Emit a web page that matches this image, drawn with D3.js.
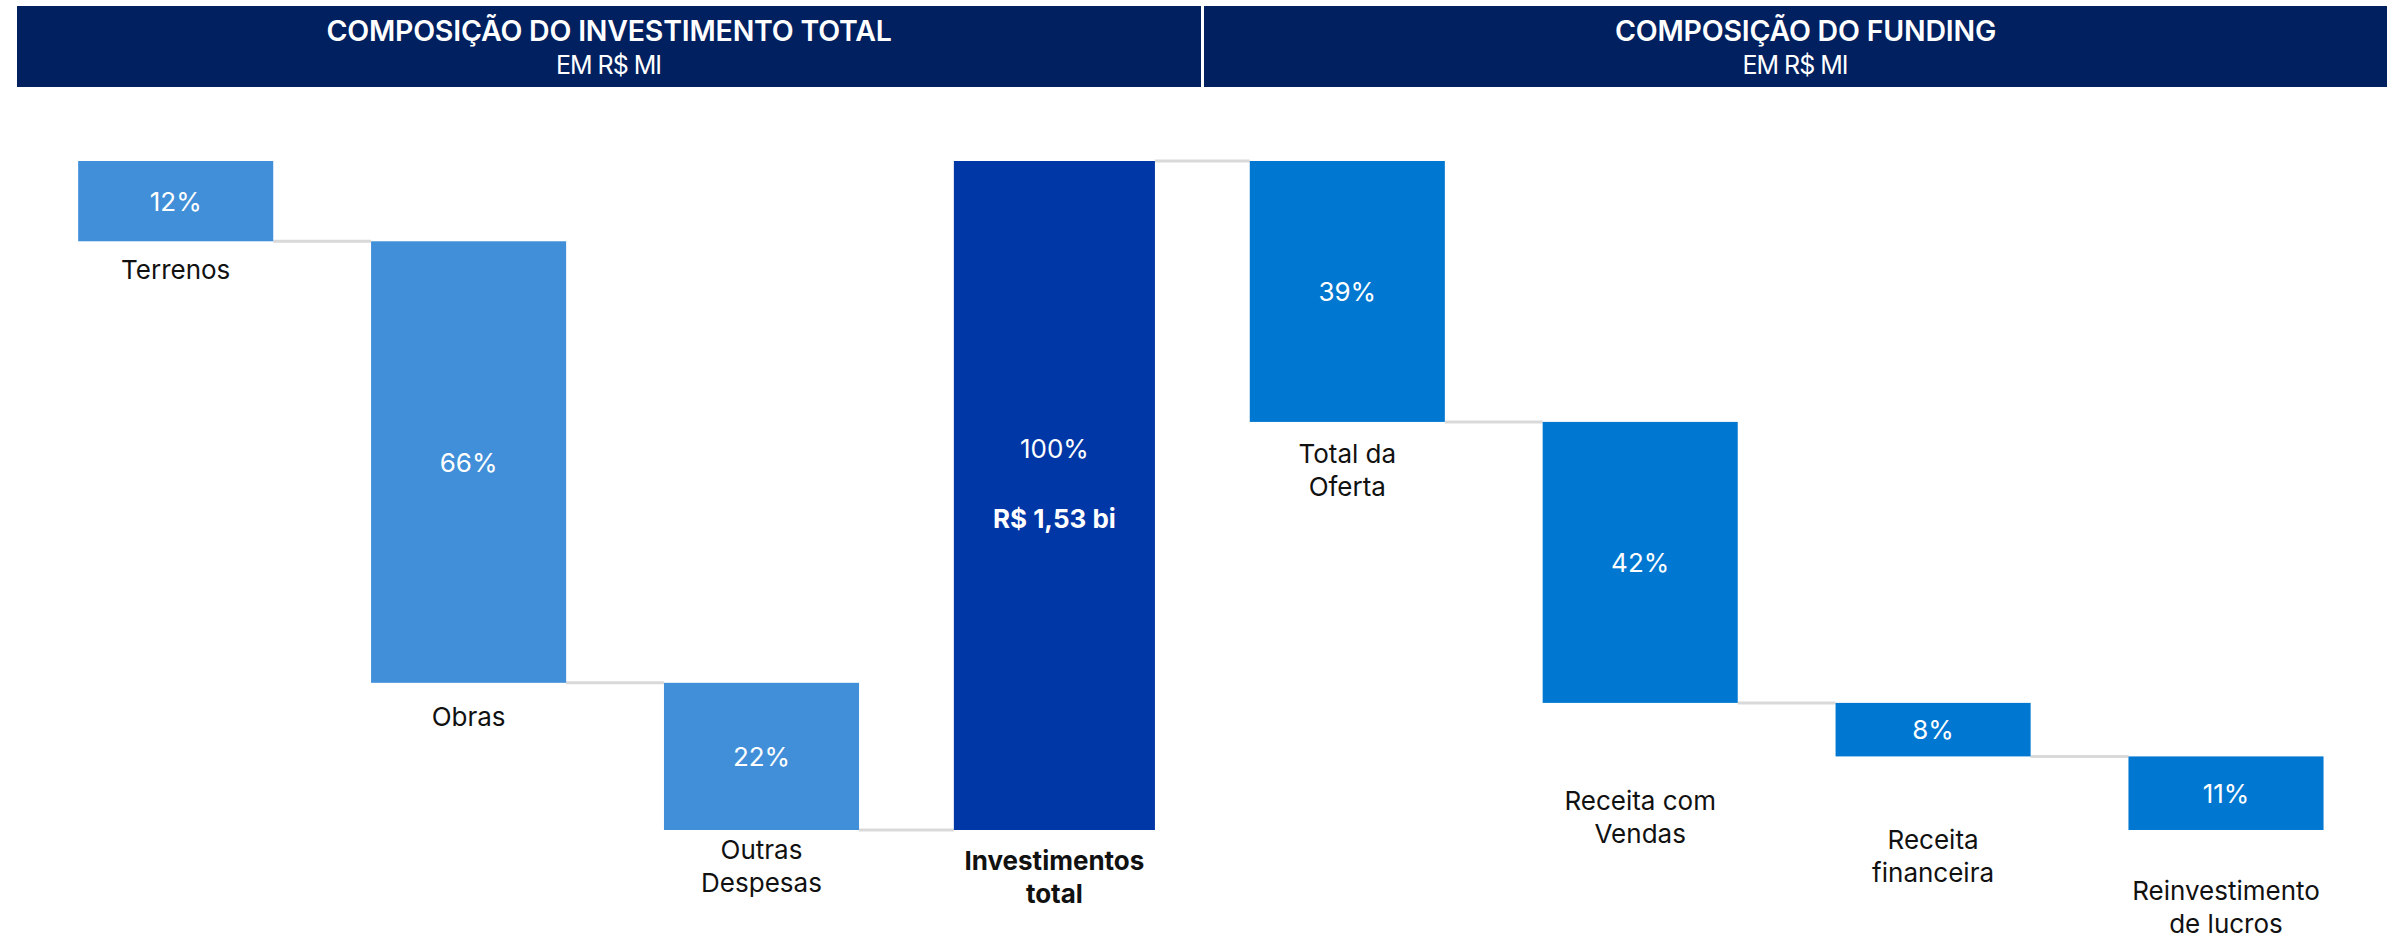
<!DOCTYPE html>
<html>
<head>
<meta charset="utf-8">
<script src="https://cdn.jsdelivr.net/npm/d3@7"></script>
<style>
  html, body { margin: 0; padding: 0; background: #ffffff; }
  svg { display: block; }
  text { font-family: Inter, "Noto Sans", sans-serif; }
</style>
</head>
<body>
<svg id="chart" width="2404" height="938"></svg>
<script>
// Panel headings
const panelTitles = ["COMPOSIÇÃO DO INVESTIMENTO TOTAL", "COMPOSIÇÃO DO FUNDING"];
const panelSubtitle = "EM R$ MI";

// Investment composition (% of total), last item is the total
const investCategories = ["Terrenos", "Obras", "Outras\nDespesas", "Investimentos\ntotal"];
const investValues = [12, 66, 22, 100];
const totalAmountLabel = "R$ 1,53 bi";

// Funding composition (% of total)
const fundingCategories = ["Total da\nOferta", "Receita com\nVendas", "Receita\nfinanceira", "Reinvestimento\nde lucros"];
const fundingValues = [39, 42, 8, 11];

// Layout
const W = 2404, H = 938;
const colors = {
  header: "#00205f",
  invest: "#418fd8",
  total: "#0037a6",
  funding: "#0077d1",
  connector: "#d9d9d9",
  label: "#111111"
};
// distance from bar bottom to centre of first category-label line
const labelGap = [28, 34, 19, 30, 32, 98, 83, 60];
const lineHeight = 33;

const svg = d3.select("#chart");

// Header bands
const headers = [
  { x: 17, w: 1184, title: panelTitles[0], dx: 0 },
  { x: 1204, w: 1183, title: panelTitles[1], dx: 10 }
];
const hg = svg.append("g").selectAll("g").data(headers).join("g");
hg.append("rect")
  .attr("x", d => d.x).attr("y", 6)
  .attr("width", d => d.w).attr("height", 81)
  .attr("fill", colors.header);
hg.append("text")
  .attr("x", d => d.x + d.w / 2 + d.dx).attr("y", 30)
  .attr("text-anchor", "middle").attr("dominant-baseline", "central")
  .attr("fill", "#ffffff").attr("font-size", 28.5).attr("font-weight", 600)
  .attr("letter-spacing", -0.2)
  .text(d => d.title);
hg.append("text")
  .attr("x", d => d.x + d.w / 2).attr("y", 65)
  .attr("text-anchor", "middle").attr("dominant-baseline", "central")
  .attr("fill", "#ffffff").attr("font-size", 25).attr("font-weight", 400)
  .attr("textLength", 106).attr("lengthAdjust", "spacing")
  .text(panelSubtitle);

// Build waterfall segments
const segments = [];
let level = 100;
investCategories.forEach((c, i) => {
  const isTotal = i === investCategories.length - 1;
  if (isTotal) {
    segments.push({ cat: c, value: investValues[i], start: 0, end: investValues[i], type: "total" });
    level = investValues[i];
  } else {
    segments.push({ cat: c, value: investValues[i], start: level, end: level - investValues[i], type: "invest" });
    level -= investValues[i];
  }
});
level = 100;
fundingCategories.forEach((c, i) => {
  segments.push({ cat: c, value: fundingValues[i], start: level, end: level - fundingValues[i], type: "funding" });
  level -= fundingValues[i];
});

// Scales
const x = d3.scaleBand()
  .domain(segments.map(d => d.cat))
  .range([29.25, 2372.45])
  .paddingInner(0.334)
  .paddingOuter(0.167);
const y = d3.scaleLinear().domain([0, 100]).range([830, 161]);

const totalExtra = 3; // total bar drawn slightly wider

// Connectors between consecutive bars
const links = d3.pairs(segments);
svg.append("g").selectAll("line").data(links).join("line")
  .attr("x1", d => x(d[0].cat) + x.bandwidth() + (d[0].type === "total" ? totalExtra : 0))
  .attr("x2", d => x(d[1].cat) - (d[1].type === "total" ? totalExtra : 0))
  .attr("y1", d => y(d[0].end))
  .attr("y2", d => y(d[0].end))
  .attr("stroke", colors.connector)
  .attr("stroke-width", 3);

// Bars
svg.append("g").selectAll("rect").data(segments).join("rect")
  .attr("x", d => x(d.cat) - (d.type === "total" ? totalExtra : 0))
  .attr("width", d => x.bandwidth() + (d.type === "total" ? 2 * totalExtra : 0))
  .attr("y", d => y(Math.max(d.start, d.end)))
  .attr("height", d => Math.abs(y(d.start) - y(d.end)))
  .attr("fill", d => colors[d.type]);

// Value labels
const vg = svg.append("g").selectAll("g").data(segments).join("g");
vg.append("text")
  .attr("x", d => x(d.cat) + x.bandwidth() / 2)
  .attr("y", d => {
    const mid = (y(d.start) + y(d.end)) / 2;
    return d.type === "total" ? mid - 47 : mid;
  })
  .attr("text-anchor", "middle").attr("dominant-baseline", "central")
  .attr("fill", "#ffffff").attr("font-size", 26).attr("font-weight", 400)
  .text(d => d.value + "%");
vg.filter(d => d.type === "total").append("text")
  .attr("x", d => x(d.cat) + x.bandwidth() / 2)
  .attr("y", d => (y(d.start) + y(d.end)) / 2 + 23)
  .attr("text-anchor", "middle").attr("dominant-baseline", "central")
  .attr("fill", "#ffffff").attr("font-size", 26).attr("font-weight", 700)
  .text(totalAmountLabel);

// Category labels under each bar
const cg = svg.append("g").selectAll("text").data(segments).join("text")
  .attr("text-anchor", "middle")
  .attr("fill", colors.label)
  .attr("font-size", 26)
  .attr("font-weight", d => d.type === "total" ? 700 : 400);
cg.each(function (d, i) {
  const bottom = y(Math.min(d.start, d.end));
  const cx = x(d.cat) + x.bandwidth() / 2;
  d3.select(this).selectAll("tspan").data(d.cat.split("\n")).join("tspan")
    .attr("x", cx)
    .attr("y", (t, j) => bottom + labelGap[i] + j * lineHeight)
    .attr("dominant-baseline", "central")
    .text(t => t);
});
</script>
</body>
</html>
